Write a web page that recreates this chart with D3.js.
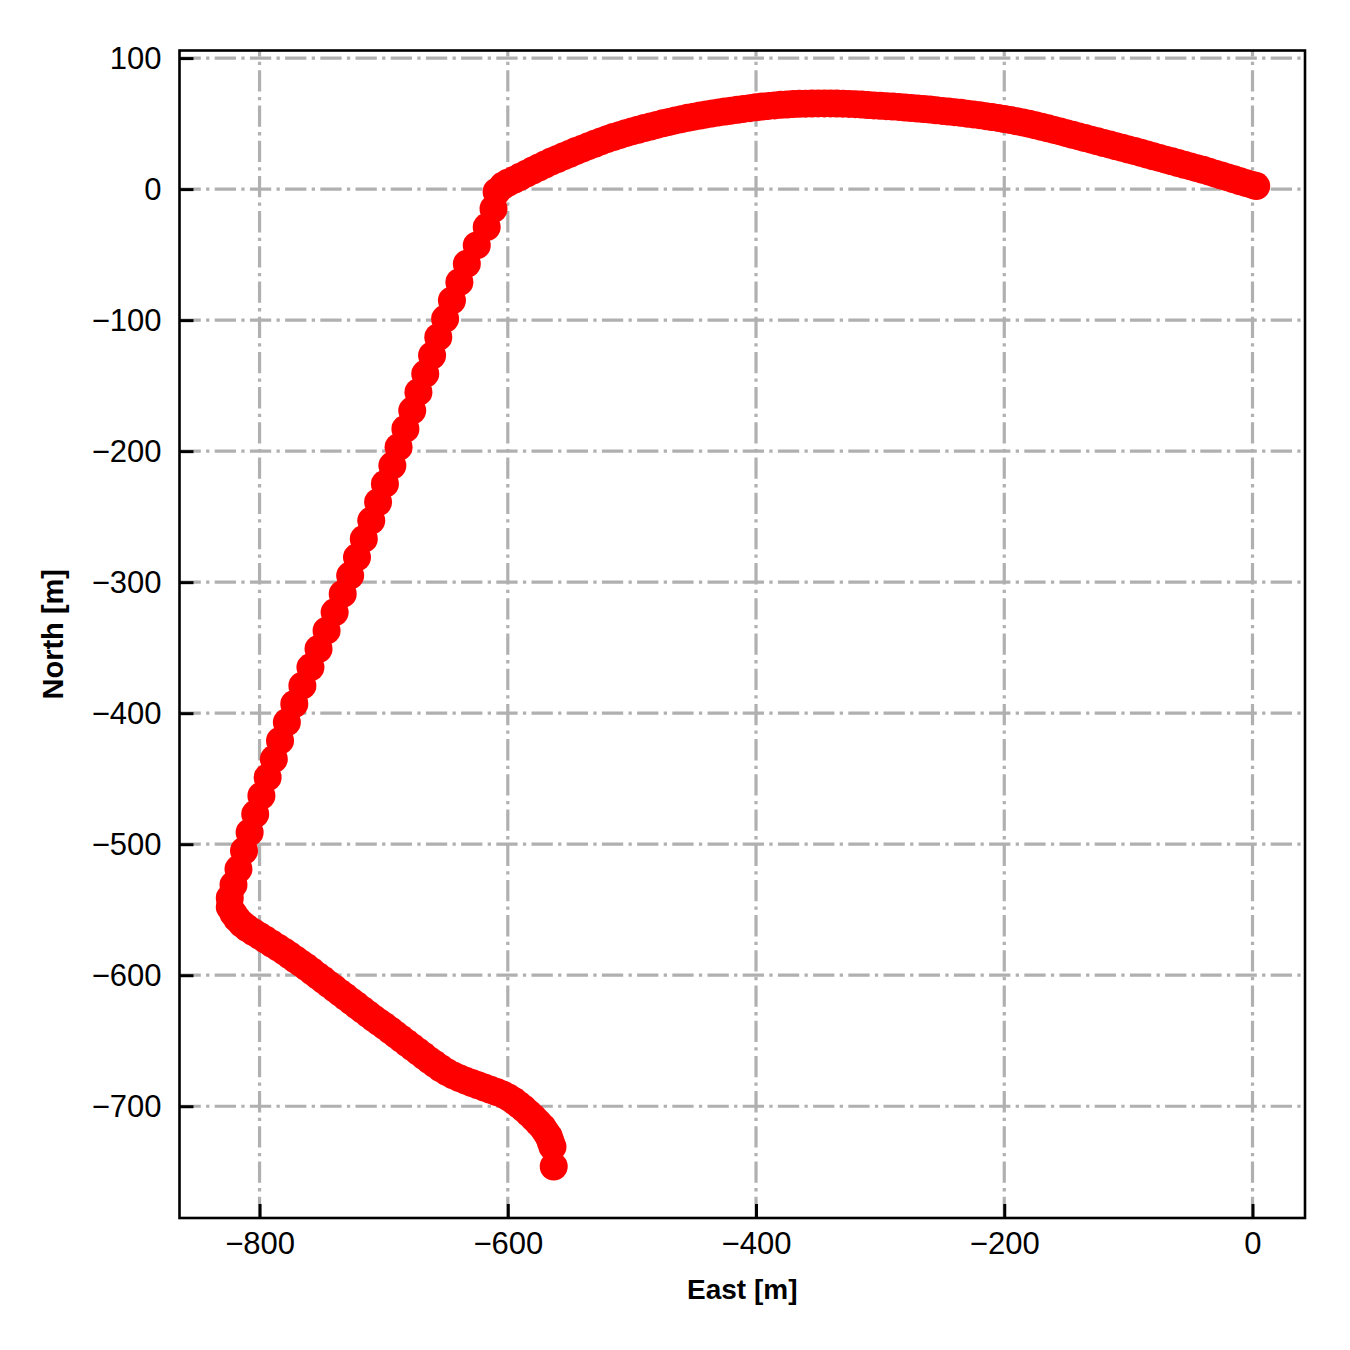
<!DOCTYPE html>
<html>
<head>
<meta charset="utf-8">
<script src="https://cdn.jsdelivr.net/npm/d3@7"></script>
<style>
  html, body { margin: 0; padding: 0; background: #fff; }
  svg { display: block; }
  text { font-family: "Liberation Sans", Arial, sans-serif; }
</style>
</head>
<body>
<svg id="chart" width="1350" height="1350"></svg>
<script>
// ---- data ----
const east = [
  3, 0, -5, -10, -15, -20, -25, -30, -35, -40, -45, -50, -55, -60, -65, -70, -75, -80, -85, -90,
  -95, -100, -105, -110, -115, -120, -125, -130, -135, -140, -145, -150, -155, -160, -165, -170, -175, -180,
  -185, -190, -195, -200, -205, -210, -215, -220, -225, -230, -235, -240, -245, -250, -255, -260, -265, -270,
  -275, -280, -285, -290, -295, -300, -305, -310, -315, -320, -325, -330, -335, -340, -345, -350, -355, -360,
  -365, -370, -375, -380, -385, -390, -395, -400, -405, -410, -415, -420, -425, -430, -435, -440, -445, -450,
  -455, -460, -465, -470, -475, -480, -485, -490, -495, -500, -505, -510, -515, -520, -525, -530, -535, -540,
  -545, -550, -555, -560, -565, -570, -575, -580, -585, -590, -595, -600, -604,
  -609, -611.5, -617, -625, -633, -639, -645, -650.5, -656, -661, -666.5, -672, -677, -682.5, -688, -693,
  -699, -704.5, -710, -716, -721.5, -727, -733, -739.5, -746, -752.5, -759, -765.5, -772, -778, -783.5,
  -788.5, -793.5, -798.5, -803.5, -808, -812.5, -817, -821, -824,
  -824, -821, -818, -814, -810, -805, -800, -795, -790, -785, -780, -775.5, -771, -766.5, -762, -757.5,
  -753, -748.5, -744, -739.5, -735, -730.5, -726, -721.5, -717, -712.5, -708, -703.5, -699, -694.5, -690,
  -685.5, -681, -676.5, -672, -667.5, -663, -658.5, -654, -649, -644, -639, -634, -629, -624, -619, -614,
  -609, -604, -599.5, -595, -591, -587, -583, -579, -575.5, -572, -569.5, -567, -565.5, -564, -563
];
const north = [
  2.3, 3.2, 4.5, 6, 7.5, 8.9, 10.3, 11.8, 13.3, 14.7, 16, 17.3, 18.6, 19.9, 21.2, 22.5, 23.8, 25.1, 26.4, 27.7,
  29, 30.2, 31.5, 32.7, 34, 35.2, 36.5, 37.7, 39, 40.2, 41.5, 42.7, 44, 45.2, 46.4, 47.6, 48.7, 49.8,
  50.8, 51.8, 52.7, 53.5, 54.3, 55, 55.7, 56.4, 57, 57.6, 58.2, 58.7, 59.2, 59.7, 60.2, 60.7, 61.1, 61.5,
  61.9, 62.3, 62.7, 63, 63.3, 63.6, 63.9, 64.2, 64.5, 64.8, 65, 65.2, 65.3, 65.4, 65.4, 65.4, 65.3, 65.2,
  65.1, 64.9, 64.6, 64.3, 63.9, 63.5, 63, 62.4, 61.8, 61.2, 60.5, 59.9, 59.2, 58.5, 57.8, 57, 56.2, 55.3,
  54.4, 53.4, 52.4, 51.3, 50.2, 49, 47.8, 46.6, 45.3, 44, 42.7, 41.2, 39.7, 38.1, 36.4, 34.6, 32.8, 30.9,
  29, 27, 25, 23, 21, 18.8, 16.5, 14.2, 11.8, 9.4, 7, 4.8, 2.5,
  -2, -15, -29, -43, -57, -71, -85, -99, -113, -127, -141, -155, -169, -183, -197, -211,
  -225, -239, -253, -267, -281, -295, -309, -323, -337, -351, -365, -379, -393, -407, -421,
  -435, -449, -463, -477, -491, -505, -519, -531, -541,
  -548, -553, -557, -561, -564, -567, -570, -573, -576, -579, -582, -585, -588, -591, -594, -597.2,
  -600.5, -603.7, -607, -610.2, -613.5, -616.7, -620, -623.2, -626.5, -629.7, -633, -636, -639, -642.2, -645.5,
  -648.7, -652, -655.2, -658.5, -661.7, -665, -668, -671, -674, -676.5, -678.6, -680.5, -682.3, -684, -685.7, -687.5,
  -689.2, -691, -693.3, -696, -699, -702, -705.5, -709, -712.5, -716, -719.5, -723, -727, -731, -746
];
const xTicks = [-800, -600, -400, -200, 0];
const yTicks = [100, 0, -100, -200, -300, -400, -500, -600, -700];
const xLabel = "East [m]";
const yLabel = "North [m]";

// ---- layout ----
const svg = d3.select("#chart");
const L = 179.5, R = 1305, T = 50.5, B = 1218;
const x = d3.scaleLinear().domain([-864.5, 42.3]).range([L, R]);
const y = d3.scaleLinear().domain([-785.3, 105.8]).range([B, T]);

const gridColor = "#b0b0b0";
const dash = "21.3,5.3,3.3,5.3";

// grid lines (dash-dot)
const grid = svg.append("g");
grid.selectAll("line.h").data(yTicks).join("line")
  .attr("x1", L).attr("x2", R)
  .attr("y1", d => y(d)).attr("y2", d => y(d))
  .attr("stroke", gridColor).attr("stroke-width", 3.2)
  .attr("stroke-dasharray", dash);
grid.selectAll("line.v").data(xTicks).join("line")
  .attr("x1", d => x(d)).attr("x2", d => x(d))
  .attr("y1", B).attr("y2", T)
  .attr("stroke", gridColor).attr("stroke-width", 3.2)
  .attr("stroke-dasharray", dash);

// trajectory markers
const pts = east.map((e, i) => [e, north[i]]);
svg.append("g").selectAll("circle").data(pts).join("circle")
  .attr("cx", d => x(d[0])).attr("cy", d => y(d[1]))
  .attr("r", 14).attr("fill", "#ff0000");

// axes (inward ticks)
const fmt = d3.format("d");
const xAxis = d3.axisBottom(x).tickValues(xTicks).tickFormat(d => fmt(d))
  .tickSizeInner(-14).tickSizeOuter(0).tickPadding(14);
const yAxis = d3.axisLeft(y).tickValues(yTicks).tickFormat(d => fmt(d))
  .tickSizeInner(-14).tickSizeOuter(0).tickPadding(18);

const gx = svg.append("g").attr("transform", `translate(0,${B})`).call(xAxis);
const gy = svg.append("g").attr("transform", `translate(${L},0)`).call(yAxis);
[gx, gy].forEach(g => {
  g.select(".domain").remove();
  g.selectAll(".tick line").attr("stroke", "#000").attr("stroke-width", 3);
  g.selectAll(".tick text").attr("fill", "#000")
    .style("font-family", '"Liberation Sans", Arial, sans-serif')
    .style("font-size", "31px");
});

// frame
svg.append("rect").attr("x", L).attr("y", T).attr("width", R - L).attr("height", B - T)
  .attr("fill", "none").attr("stroke", "#000").attr("stroke-width", 2.6);

// axis labels
svg.append("text").attr("x", (L + R) / 2).attr("y", 1299)
  .attr("text-anchor", "middle").attr("font-weight", "bold").attr("font-size", "28px")
  .text(xLabel);
svg.append("text").attr("transform", `translate(63,${(T + B) / 2}) rotate(-90)`)
  .attr("text-anchor", "middle").attr("font-weight", "bold").attr("font-size", "29px")
  .text(yLabel);
</script>
</body>
</html>
